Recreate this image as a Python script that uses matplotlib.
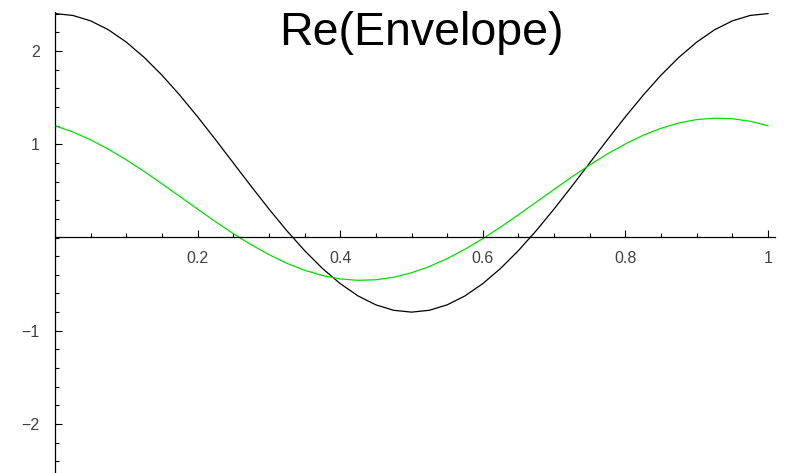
import numpy as np
import matplotlib
matplotlib.use("Agg")
import matplotlib.pyplot as plt
from matplotlib.ticker import MultipleLocator

# sample points, step 0.025
x = [i * 0.025 for i in range(41)]
black = [2.400, 2.380, 2.322, 2.226, 2.094, 1.931, 1.740, 1.526, 1.294, 1.050,
         0.800, 0.550, 0.306, 0.074, -0.140, -0.331, -0.494, -0.626, -0.722, -0.780,
         -0.800, -0.780, -0.722, -0.626, -0.494, -0.331, -0.140, 0.074, 0.306, 0.550,
         0.800, 1.050, 1.294, 1.526, 1.740, 1.931, 2.094, 2.226, 2.322, 2.380, 2.400]
green = [1.198, 1.131, 1.046, 0.946, 0.832, 0.708, 0.576, 0.440, 0.304, 0.170,
         0.042, -0.077, -0.183, -0.276, -0.351, -0.408, -0.444, -0.459, -0.453, -0.426,
         -0.378, -0.311, -0.226, -0.126, -0.012, 0.112, 0.244, 0.380, 0.516, 0.650,
         0.778, 0.897, 1.003, 1.096, 1.171, 1.228, 1.264, 1.279, 1.273, 1.246, 1.198]
xticks = [0.2, 0.4, 0.6, 0.8, 1]
xticklabels = ["0.2", "0.4", "0.6", "0.8", "1"]
yticks = [-2, -1, 1, 2]
yticklabels = ["\u22122", "\u22121", "1", "2"]

plt.rcParams['font.family'] = ['Liberation Sans', 'DejaVu Sans']

fig = plt.figure(figsize=(7.93, 4.73), dpi=100)
W, H = 793, 473
x0, x1 = 0.0, 1.01
y0, y1 = -2.52, 2.42
# pixel geometry
px_left = 55
px_per_x = 713
py_zero = 237.5
py_per_y = 93.3
left = px_left / W
width = (x1 - x0) * px_per_x / W
top_px = py_zero - y1 * py_per_y
bot_px = py_zero - y0 * py_per_y
ax = fig.add_axes([left, 1 - bot_px / H, width, (bot_px - top_px) / H])

ax.plot(x, black, color='black', lw=0.9)
ax.plot(x, green, color='#00e000', lw=0.9)

ax.set_xlim(x0, x1)
ax.set_ylim(y0, y1)
for s in ['top', 'right']:
    ax.spines[s].set_visible(False)
ax.spines['left'].set_position(('data', 0))
ax.spines['bottom'].set_position(('data', 0))
ax.spines['left'].set_linewidth(0.9)
ax.spines['bottom'].set_linewidth(0.9)

ax.set_xticks(xticks)
ax.set_xticklabels(xticklabels)
ax.set_yticks(yticks)
ax.set_yticklabels(yticklabels)
ax.xaxis.set_minor_locator(MultipleLocator(0.05))
ax.yaxis.set_minor_locator(MultipleLocator(0.2))
ax.tick_params(which='major', direction='in', length=5, width=0.8, labelsize=11.5,
               labelcolor='#404040')
ax.tick_params(which='minor', direction='in', length=3, width=0.8)
ax.tick_params(axis='x', pad=10)
ax.tick_params(axis='y', pad=11)
ax.patch.set_visible(False)

fig.text(421 / W, 1 - 45 / H, "Re(Envelope)", fontsize=33.5, ha='center', va='baseline')

fig.savefig('out.png', dpi=100)
